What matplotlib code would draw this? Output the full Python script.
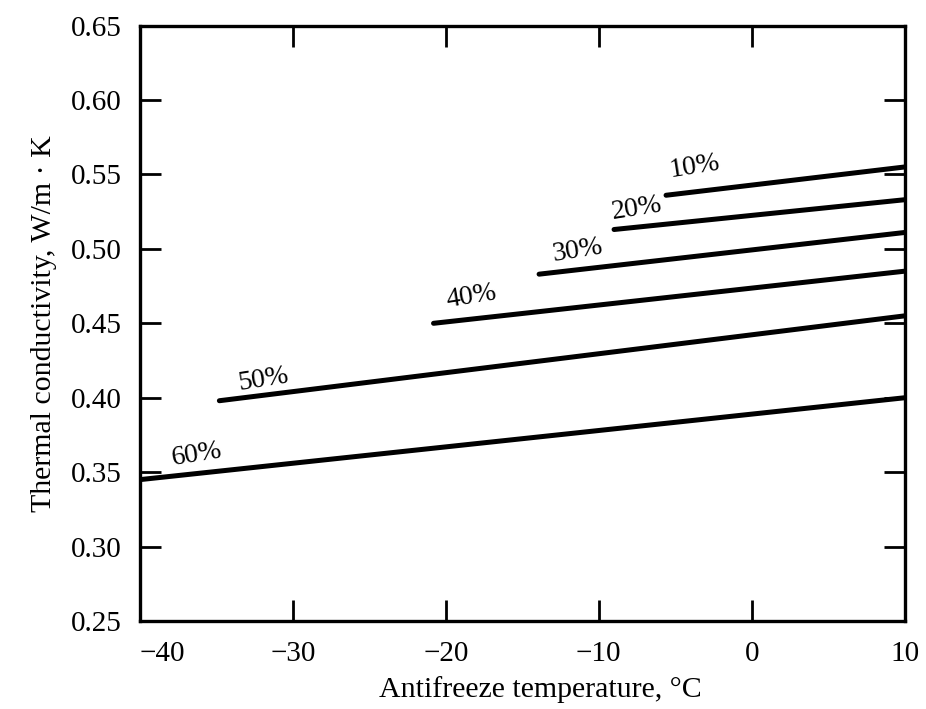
import numpy as np
import matplotlib
matplotlib.use('Agg')
import matplotlib.pyplot as plt

# Datos
labels = ['10%', '20%', '30%', '40%', '50%', '60%']
t_start = [-5.6, -9.0, -13.9, -20.8, -34.8, -40.0]
t_end = [10, 10, 10, 10, 10, 10]
k_start = [0.536, 0.513, 0.483, 0.450, 0.398, 0.345]
k_end = [0.555, 0.533, 0.511, 0.485, 0.455, 0.400]
# posicion de las etiquetas
lab_t = [-3.7, -7.5, -11.4, -18.3, -31.9, -36.3]
lab_k = [0.555, 0.527, 0.499, 0.468, 0.4125, 0.362]

xticks = [-40, -30, -20, -10, 0, 10]
yticks = [0.25, 0.30, 0.35, 0.40, 0.45, 0.50, 0.55, 0.60, 0.65]

plt.rcParams['font.family'] = ['Liberation Serif', 'DejaVu Serif']

fig = plt.figure(figsize=(9.26, 7.09), dpi=100)
ax = fig.add_axes([0.151, 0.124, 0.826, 0.84])

for i in range(len(labels)):
    ax.plot([t_start[i], t_end[i]], [k_start[i], k_end[i]], color='black',
            lw=3.6, solid_capstyle='round')
    ax.text(lab_t[i], lab_k[i], labels[i], fontsize=20, rotation=9,
            ha='center', va='center')

ax.set_xlim(-40, 10)
ax.set_ylim(0.25, 0.65)
ax.set_xticks(xticks)
ax.set_yticks(yticks)
ax.set_yticklabels(['%.2f' % v for v in yticks])
ax.set_xticklabels(['\u221240', '\u221230', '\u221220', '\u221210', '0', '10'])
ax.get_xticklabels()[0].set_horizontalalignment('left')

ax.tick_params(direction='in', length=15, width=2, labelsize=21,
               top=True, right=True)
ax.tick_params(axis='x', pad=14)
ax.tick_params(axis='y', pad=13)
for s in ax.spines.values():
    s.set_linewidth(2.4)

ax.set_xlabel('Antifreeze temperature, \u00b0C', fontsize=21.5)
ax.xaxis.set_label_coords(0.524, -0.092)
ax.set_ylabel('Thermal conductivity, W/m \u00b7 K', fontsize=21.5, labelpad=10)

fig.savefig('out.png', dpi=100)
